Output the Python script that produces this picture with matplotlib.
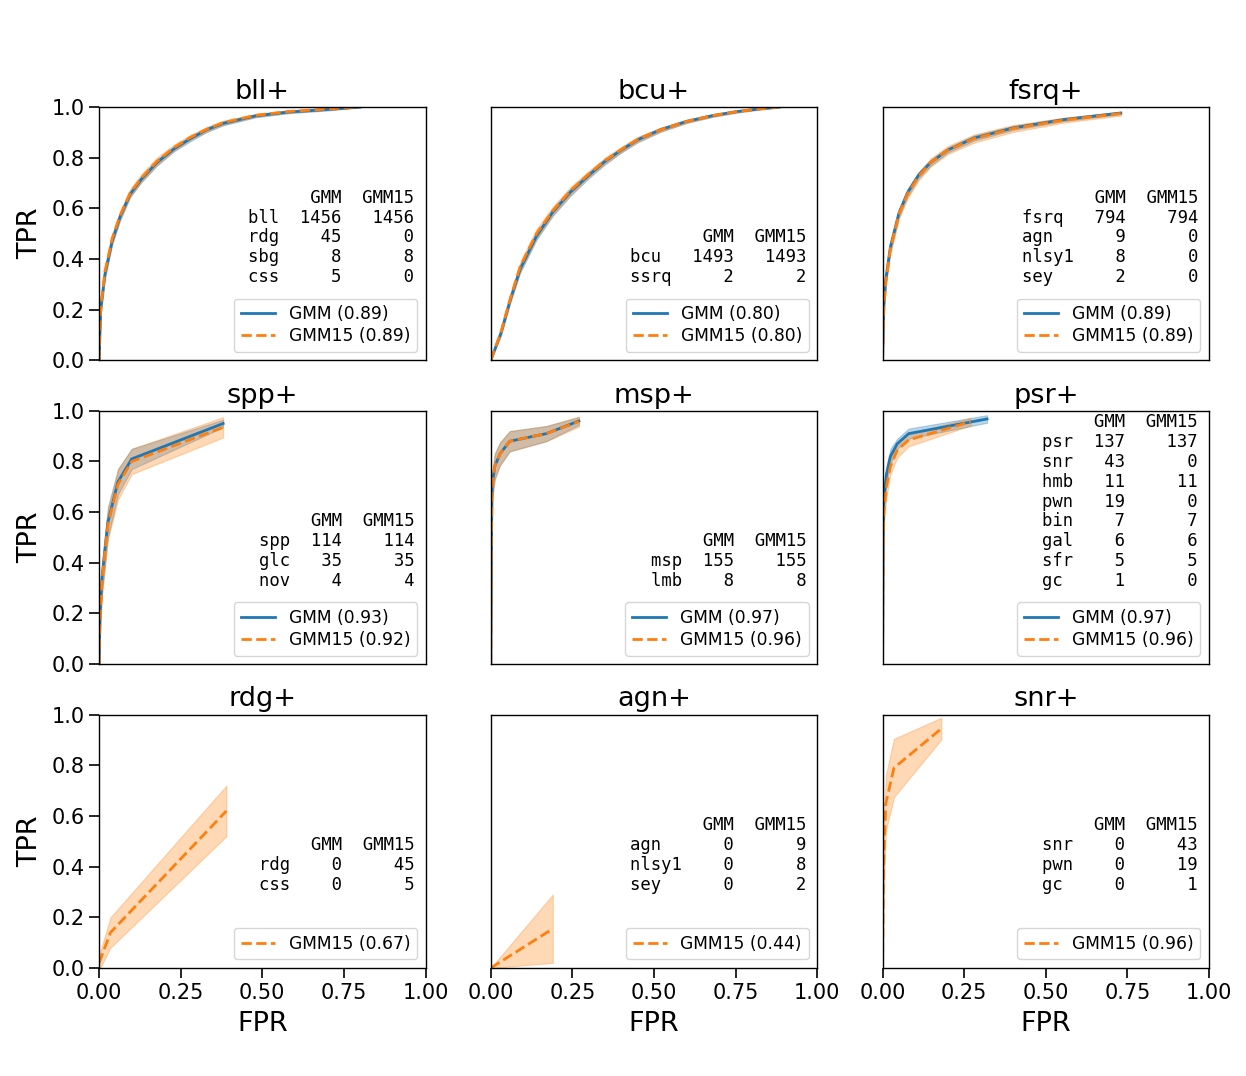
import numpy as np
import pandas as pd
import matplotlib
matplotlib.use('Agg')
import matplotlib.pyplot as plt


""" data read off the ROC panels """

titles = ['bll+', 'bcu+', 'fsrq+', 'spp+', 'msp+', 'psr+', 'rdg+', 'agn+', 'snr+']

auc_gmm = [0.89, 0.80, 0.89, 0.93, 0.97, 0.97, None, None, None]
auc_gmm15 = [0.89, 0.80, 0.89, 0.92, 0.96, 0.96, 0.67, 0.44, 0.96]

# class counts shown in each panel
classes = [
    ['bll', 'rdg', 'sbg', 'css'],
    ['bcu', 'ssrq'],
    ['fsrq', 'agn', 'nlsy1', 'sey'],
    ['spp', 'glc', 'nov'],
    ['msp', 'lmb'],
    ['psr', 'snr', 'hmb', 'pwn', 'bin', 'gal', 'sfr', 'gc'],
    ['rdg', 'css'],
    ['agn', 'nlsy1', 'sey'],
    ['snr', 'pwn', 'gc'],
]
n_gmm = [
    [1456, 45, 8, 5],
    [1493, 2],
    [794, 9, 8, 2],
    [114, 35, 4],
    [155, 8],
    [137, 43, 11, 19, 7, 6, 5, 1],
    [0, 0],
    [0, 0, 0],
    [0, 0, 0],
]
n_gmm15 = [
    [1456, 0, 8, 0],
    [1493, 2],
    [794, 0, 0, 0],
    [114, 35, 4],
    [155, 8],
    [137, 0, 11, 0, 7, 6, 5, 0],
    [45, 5],
    [9, 8, 2],
    [43, 19, 1],
]

# mean ROC curves (fpr, tpr) and their spread
bll_fpr = [0, 0.005, 0.018, 0.04, 0.064, 0.095, 0.13, 0.177, 0.23, 0.28, 0.33, 0.38, 0.48, 0.58, 0.70, 0.80]
bll_gmm = [0, 0.20, 0.34, 0.47, 0.565, 0.655, 0.715, 0.78, 0.835, 0.875, 0.91, 0.935, 0.965, 0.98, 0.99, 1.0]
bll_gmm_sd = [0, 0.02, 0.02, 0.015, 0.015, 0.012, 0.012, 0.012, 0.01, 0.01, 0.009, 0.008, 0.006, 0.005, 0.004, 0.002]
bll_gmm15 = [0, 0.20, 0.35, 0.48, 0.57, 0.66, 0.72, 0.785, 0.84, 0.88, 0.912, 0.938, 0.967, 0.982, 0.992, 1.0]
bll_gmm15_sd = [0, 0.02, 0.02, 0.018, 0.016, 0.015, 0.015, 0.015, 0.012, 0.01, 0.009, 0.008, 0.006, 0.005, 0.004, 0.002]

bcu_fpr = [0, 0.031, 0.06, 0.09, 0.14, 0.19, 0.245, 0.30, 0.35, 0.40, 0.45, 0.52, 0.60, 0.68, 0.755, 0.82, 0.885]
bcu_gmm = [0, 0.107, 0.24, 0.36, 0.49, 0.585, 0.665, 0.73, 0.785, 0.83, 0.87, 0.91, 0.943, 0.966, 0.982, 0.992, 1.0]
bcu_gmm_sd = [0, 0.01, 0.012, 0.015, 0.015, 0.015, 0.015, 0.012, 0.012, 0.01, 0.01, 0.008, 0.006, 0.005, 0.004, 0.003, 0.002]
bcu_gmm15 = [0, 0.11, 0.245, 0.37, 0.50, 0.59, 0.67, 0.735, 0.788, 0.832, 0.872, 0.91, 0.943, 0.966, 0.982, 0.992, 1.0]
bcu_gmm15_sd = [0, 0.012, 0.015, 0.018, 0.018, 0.016, 0.015, 0.012, 0.012, 0.01, 0.01, 0.008, 0.006, 0.005, 0.004, 0.003, 0.002]

fsrq_fpr = [0, 0.004, 0.01, 0.024, 0.05, 0.076, 0.11, 0.147, 0.20, 0.28, 0.40, 0.555, 0.73]
fsrq_gmm = [0, 0.22, 0.32, 0.447, 0.58, 0.66, 0.73, 0.78, 0.83, 0.877, 0.917, 0.95, 0.976]
fsrq_gmm_sd = [0, 0.02, 0.02, 0.02, 0.015, 0.015, 0.012, 0.012, 0.01, 0.01, 0.008, 0.006, 0.005]
fsrq_gmm15 = [0, 0.21, 0.31, 0.44, 0.575, 0.655, 0.725, 0.78, 0.83, 0.875, 0.915, 0.948, 0.974]
fsrq_gmm15_sd = [0, 0.02, 0.02, 0.02, 0.018, 0.018, 0.016, 0.016, 0.016, 0.016, 0.014, 0.01, 0.008]

spp_fpr = [0, 0.003, 0.009, 0.027, 0.058, 0.10, 0.38]
spp_gmm = [0, 0.20, 0.34, 0.56, 0.72, 0.81, 0.95]
spp_gmm_sd = [0, 0.05, 0.06, 0.06, 0.05, 0.04, 0.015]
spp_gmm15 = [0, 0.18, 0.33, 0.55, 0.71, 0.80, 0.935]
spp_gmm15_sd = [0, 0.05, 0.06, 0.06, 0.06, 0.05, 0.04]

msp_fpr = [0, 0.002, 0.004, 0.012, 0.028, 0.058, 0.17, 0.27]
msp_gmm = [0, 0.50, 0.70, 0.78, 0.83, 0.88, 0.91, 0.96]
msp_gmm_sd = [0, 0.05, 0.05, 0.05, 0.045, 0.04, 0.03, 0.015]
msp_gmm15 = [0, 0.50, 0.70, 0.78, 0.83, 0.88, 0.91, 0.958]
msp_gmm15_sd = [0, 0.05, 0.05, 0.05, 0.045, 0.04, 0.03, 0.02]

psr_fpr_gmm = [0, 0.002, 0.004, 0.012, 0.024, 0.045, 0.08, 0.32]
psr_gmm = [0, 0.50, 0.65, 0.75, 0.82, 0.87, 0.91, 0.968]
psr_gmm_sd = [0, 0.04, 0.04, 0.03, 0.03, 0.02, 0.02, 0.015]
psr_fpr_gmm15 = [0, 0.002, 0.004, 0.012, 0.024, 0.045, 0.08, 0.27]
psr_gmm15 = [0, 0.45, 0.60, 0.70, 0.78, 0.845, 0.885, 0.957]
psr_gmm15_sd = [0, 0.05, 0.05, 0.04, 0.03, 0.03, 0.025, 0.015]

rdg_fpr = [0, 0.035, 0.39]
rdg_gmm15 = [0.02, 0.14, 0.62]
rdg_gmm15_sd = [0.03, 0.06, 0.10]

agn_fpr = [0, 0.19]
agn_gmm15 = [0, 0.155]
agn_gmm15_sd = [0, 0.135]

snr_fpr = [0, 0.003, 0.01, 0.035, 0.18]
snr_gmm15 = [0, 0.40, 0.65, 0.79, 0.945]
snr_gmm15_sd = [0, 0.15, 0.11, 0.115, 0.043]

curves_gmm = [
    (bll_fpr, bll_gmm, bll_gmm_sd),
    (bcu_fpr, bcu_gmm, bcu_gmm_sd),
    (fsrq_fpr, fsrq_gmm, fsrq_gmm_sd),
    (spp_fpr, spp_gmm, spp_gmm_sd),
    (msp_fpr, msp_gmm, msp_gmm_sd),
    (psr_fpr_gmm, psr_gmm, psr_gmm_sd),
    None, None, None,
]
curves_gmm15 = [
    (bll_fpr, bll_gmm15, bll_gmm15_sd),
    (bcu_fpr, bcu_gmm15, bcu_gmm15_sd),
    (fsrq_fpr, fsrq_gmm15, fsrq_gmm15_sd),
    (spp_fpr, spp_gmm15, spp_gmm15_sd),
    (msp_fpr, msp_gmm15, msp_gmm15_sd),
    (psr_fpr_gmm15, psr_gmm15, psr_gmm15_sd),
    (rdg_fpr, rdg_gmm15, rdg_gmm15_sd),
    (agn_fpr, agn_gmm15, agn_gmm15_sd),
    (snr_fpr, snr_gmm15, snr_gmm15_sd),
]


""" plot """

plt.rcParams['axes.linewidth'] = 1.0

fig, axes = plt.subplots(3, 3, figsize=(12.46, 10.76), dpi=100)
fig.subplots_adjust(left=0.0795, right=0.9703, bottom=0.1004, top=0.9006, wspace=0.2, hspace=0.2)

for i, ax in enumerate(axes.flat):
    row, col = divmod(i, 3)

    if curves_gmm[i] is not None:
        fpr, tpr, sd = [np.array(a) for a in curves_gmm[i]]
        ax.plot(fpr, tpr, color='C0', linestyle='-', lw=2, label='GMM (%.2f)' % auc_gmm[i])
        ax.fill_between(fpr, tpr - sd, tpr + sd, color='C0', alpha=0.3, lw=0.8)

    fpr, tpr, sd = [np.array(a) for a in curves_gmm15[i]]
    ax.plot(fpr, tpr, color='C1', linestyle='--', lw=2, label='GMM15 (%.2f)' % auc_gmm15[i])
    ax.fill_between(fpr, tpr - sd, tpr + sd, color='C1', alpha=0.3, lw=0.8)

    # class count table
    df = pd.DataFrame({'GMM': n_gmm[i], 'GMM15': n_gmm15[i]}, index=classes[i])
    ax.text(0.966, 0.293, df.to_string(), transform=ax.transAxes, ha='right', va='bottom',
            family='DejaVu Sans Mono', fontsize=12.4, linespacing=1.13)

    ax.legend(loc='lower right', fontsize=12.3, labelspacing=0.2)
    ax.set_title(titles[i], fontsize=19.5)
    ax.set_xlim(0, 1)
    ax.set_ylim(0, 1)

    if col == 0:
        ax.set_yticks([0, 0.2, 0.4, 0.6, 0.8, 1.0])
        ax.tick_params(axis='y', labelsize=15, length=7, width=1.2)
        ax.set_ylabel('TPR', fontsize=19.5, labelpad=6)
    else:
        ax.set_yticks([])
    if row == 2:
        ax.set_xticks([0, 0.25, 0.5, 0.75, 1.0])
        ax.tick_params(axis='x', labelsize=15, length=7, width=1.2)
        ax.set_xlabel('FPR', fontsize=19.5, labelpad=6)
    else:
        ax.set_xticks([])

plt.savefig('out.png', dpi=100)
